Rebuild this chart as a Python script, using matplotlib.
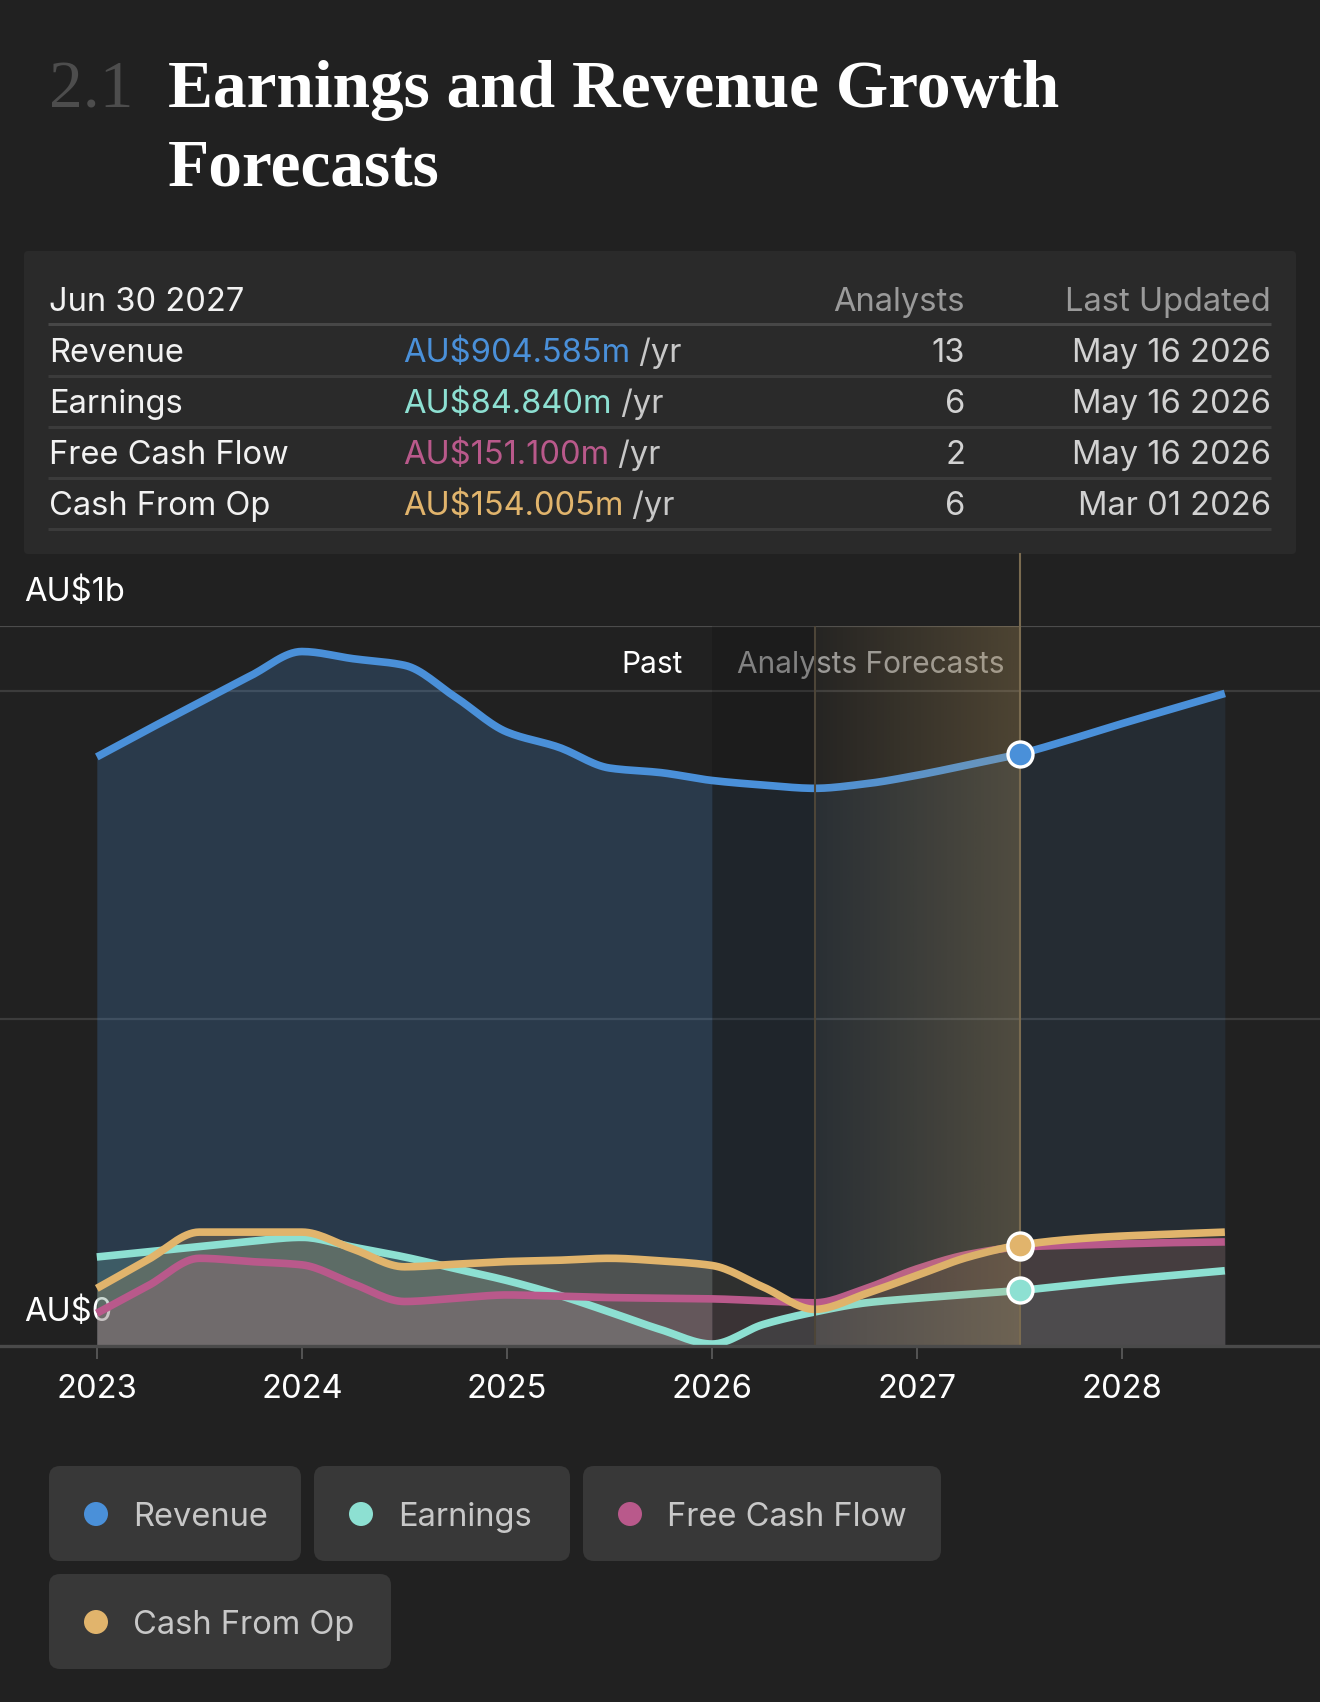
import numpy as np
import matplotlib
matplotlib.use("Agg")
import matplotlib.pyplot as plt
from matplotlib.patches import FancyBboxPatch, Circle

plt.rcParams['font.family'] = ['Inter', 'DejaVu Sans']

BG = '#212121'

# ---- data (AU$ millions) ----
years = [2023.0, 2023.25, 2023.5, 2023.75, 2024.0, 2024.25, 2024.5, 2024.75,
         2025.0, 2025.25, 2025.5, 2025.75, 2026.0, 2026.25, 2026.5, 2026.75,
         2027.0, 2027.25, 2027.5, 2027.75, 2028.0, 2028.25, 2028.5]
revenue = [900, 942, 983, 1024, 1061, 1050, 1040, 991, 938, 915, 883, 876,
           864, 857, 852, 859, 872, 888, 904.585, 927, 951, 974, 997]
earnings = [136, 144, 152, 160, 166, 151, 136, 118, 100, 78, 52, 25,
            3, 33, 52, 66, 73, 79, 84.84, 93, 101, 108, 115]
free_cash_flow = [50, 92, 134, 129, 124, 95, 68, 73, 78, 76, 74, 73,
                  72, 69, 66, 88, 118, 140, 151.1, 154, 156, 158, 159]
cash_from_op = [88, 132, 174, 174, 174, 148, 121, 125, 129, 131, 134, 130,
                123, 90, 56, 80, 108, 136, 154.005, 163, 168, 171, 174]

year_ticks = [2023, 2024, 2025, 2026, 2027, 2028]
past_end = 2026.0
highlight = (2026.5, 2027.5)

series_names = ['Revenue', 'Earnings', 'Free Cash Flow', 'Cash From Op']
series_colors = ['#4a90d9', '#8de0d2', '#b9598b', '#e1b46c']

table_values = ['AU$904.585m', 'AU$84.840m', 'AU$151.100m', 'AU$154.005m']
table_analysts = ['13', '6', '2', '6']
table_updated = ['May 16 2026', 'May 16 2026', 'May 16 2026', 'Mar 01 2026']


def curve(x, y, n=16):
    # monotone cubic path through the points (drawing only)
    x = np.asarray(x, float)
    y = np.asarray(y, float)
    h = np.diff(x)
    d = np.diff(y) / h
    m = np.zeros_like(y)
    m[0], m[-1] = d[0], d[-1]
    for i in range(1, len(y) - 1):
        if d[i - 1] * d[i] > 0:
            m[i] = 3 * (h[i - 1] + h[i]) / ((2 * h[i] + h[i - 1]) / d[i - 1]
                                            + (h[i] + 2 * h[i - 1]) / d[i])
    xs, ys = [], []
    for i in range(len(h)):
        t = np.linspace(0, 1, n, endpoint=False)
        h00 = 2 * t**3 - 3 * t**2 + 1
        h10 = t**3 - 2 * t**2 + t
        h01 = -2 * t**3 + 3 * t**2
        h11 = t**3 - t**2
        xs.append(x[i] + t * h[i])
        ys.append(h00 * y[i] + h10 * h[i] * m[i] + h01 * y[i + 1] + h11 * h[i] * m[i + 1])
    xs.append([x[-1]])
    ys.append([y[-1]])
    return np.concatenate(xs), np.concatenate(ys)


W, H = 1320, 1702
fig = plt.figure(figsize=(W / 100, H / 100), dpi=100, facecolor=BG)

# overlay axes in pixel coordinates for the page elements
ov = fig.add_axes([0, 0, 1, 1], zorder=0)
ov.set_xlim(0, W)
ov.set_ylim(H, 0)
ov.axis('off')
ov.set_facecolor('none')

# title
ov.text(49, 107, '2.1', fontsize=48.5, color='#4d4d4d', family='Liberation Serif')
ov.text(168, 107, 'Earnings and Revenue Growth', fontsize=48.5, color='white',
        family='Liberation Serif', fontweight='bold')
ov.text(168, 185, 'Forecasts', fontsize=48.5, color='white',
        family='Liberation Serif', fontweight='bold')

# table box
ov.add_patch(FancyBboxPatch((24, 251), 1272, 303, boxstyle='round,pad=0,rounding_size=4',
                            fc='#2a2a2a', ec='none'))
fs = 23.5
fs_small = 21.5
ov.text(49, 311, 'Jun 30 2027', fontsize=fs, color='#f2f2f2')
ov.text(965, 311, 'Analysts', fontsize=fs, color='#9a9a9a', ha='right')
ov.text(1271, 311, 'Last Updated', fontsize=fs, color='#9a9a9a', ha='right')
ov.plot([48, 1271], [324, 324], color='#474747', lw=2.2, solid_capstyle='butt')
row_base = [362, 413, 464, 515]
row_line = [376, 427, 478, 529]
for i in range(4):
    yb = row_base[i]
    ov.text(49, yb, series_names[i], fontsize=fs, color='#f2f2f2')
    t = ov.text(403, yb, table_values[i], fontsize=fs, color=series_colors[i])
    ov.annotate(' /yr', xy=(1, 0), xycoords=t, va='bottom', ha='left',
                fontsize=fs, color='#c8c8c8')
    ov.text(965, yb, table_analysts[i], fontsize=fs, color='#d2d2d2', ha='right')
    ov.text(1271, yb, table_updated[i], fontsize=fs, color='#d2d2d2', ha='right')
    ov.plot([48, 1271], [row_line[i], row_line[i]], color='#3b3b3b', lw=2.2,
            solid_capstyle='butt')

# legend chips
chips = [(49, 1466, 252), (314, 1466, 256), (583, 1466, 358), (49, 1574, 342)]
for (cx, cy, cw), name, col in zip(chips, series_names, series_colors):
    ov.add_patch(FancyBboxPatch((cx, cy), cw, 95, boxstyle='round,pad=0,rounding_size=11',
                                fc='#383838', ec='none'))
    ov.add_patch(Circle((cx + 47, cy + 48), 12, fc=col, ec='none'))
    ov.text(cx + 84, cy + 60, name, fontsize=fs, color='#c8c8c8')

# chart labels
ov.text(24, 601, 'AU$1b', fontsize=fs, color='white')
ov.text(24, 1321, 'AU$0', fontsize=fs, color='white', zorder=5)
ov.text(683, 673, 'Past', fontsize=fs_small, color='white', ha='right')
ov.text(737, 673, 'Analysts Forecasts', fontsize=fs_small, color='#999999')

# ---- chart axes ----
y_top, y_bot = 626, 1346
px_year = 205.1
x0 = 96.8
ax = fig.add_axes([0, (H - y_bot) / H, 1, (y_bot - y_top) / H], zorder=1)
ax.set_facecolor('none')
xlim = (2023 - x0 / px_year, 2023 + (W - x0) / px_year)
ylim = (0, 1100)

for s in ax.spines.values():
    s.set_visible(False)

# grid and frame lines
ax.axhline(1100, color='#4c4c4c', lw=1.6, zorder=1)
ax.axhline(1000, color='#3c3c3c', lw=1.6, zorder=1)
ax.axhline(500, color='#3c3c3c', lw=1.6, zorder=1)

all_series = [revenue, earnings, free_cash_flow, cash_from_op]
curves = [curve(years, s) for s in all_series]

# area fills
for k, (cx, cy) in enumerate(curves):
    past = cx <= past_end
    fut = cx >= past_end
    a_past, a_fut = (0.23, 0.1) if k == 0 else (0.2, 0.1)
    ax.fill_between(cx[past], cy[past], 0, color=series_colors[k], alpha=a_past,
                    lw=0, zorder=2)
    ax.fill_between(cx[fut], cy[fut], 0, color=series_colors[k], alpha=a_fut,
                    lw=0, zorder=2)

# darker strip after the past period
ax.axvspan(past_end, highlight[0], color='black', alpha=0.15, lw=0, zorder=3)

# lines
for k in [0, 1, 2, 3]:
    cx, cy = curves[k]
    ax.plot(cx, cy, color=series_colors[k], lw=5.5, solid_capstyle='butt',
            solid_joinstyle='round', zorder=4, clip_on=False)

# highlighted forecast year band with horizontal gradient
grad = np.zeros((2, 256, 4))
grad[..., 0] = 200 / 255
grad[..., 1] = 165 / 255
grad[..., 2] = 100 / 255
grad[..., 3] = np.linspace(0.03, 0.27, 256)[None, :]
ax.imshow(grad, extent=[highlight[0], highlight[1], 0, 1100], aspect='auto',
          interpolation='bilinear', zorder=5)
ax.axvline(highlight[0], color='#4d4538', lw=1.5, zorder=6)
ax.axvline(highlight[1], ymin=0, ymax=(y_bot - 554) / (y_bot - y_top), color='#7a6b50',
           lw=1.5, zorder=6, clip_on=False)

# markers at the selected date
for k in [0, 1, 2, 3]:
    ax.plot(highlight[1], all_series[k][years.index(highlight[1])], 'o', ms=18,
            mfc=series_colors[k], mec='white', mew=2.4, zorder=10, clip_on=False)

# baseline axis
ax.axhline(0, color='#4a4a4a', lw=2.4, zorder=7, clip_on=False)

ax.set_xlim(xlim)
ax.set_ylim(ylim)
ax.set_yticks([])
ax.set_xticks(year_ticks)
ax.set_xticklabels([str(y) for y in year_ticks])
ax.tick_params(axis='x', length=9, width=1.4, color='#555555', labelcolor='white',
               labelsize=fs, pad=11)

fig.savefig('out.png', dpi=100, facecolor=BG)
